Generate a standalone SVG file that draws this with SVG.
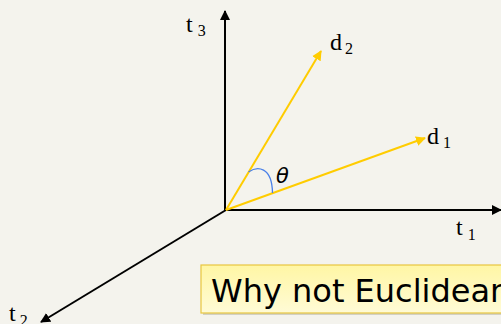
<svg xmlns="http://www.w3.org/2000/svg" width="501" height="324" viewBox="0 0 501 324">
<style>
.ax{stroke:#000;stroke-width:2;fill:none}
.vec{stroke:#FFCC00;stroke-width:2;fill:none}
.lbl{font-family:"Liberation Serif",serif;font-size:24px;fill:#000}
.sub{font-size:16px}
</style>
<defs>
<marker id="ah" viewBox="0 0 10 10" refX="9" refY="5" markerWidth="5" markerHeight="5" orient="auto" markerUnits="strokeWidth">
<path d="M0,0 L10,5 L0,10 z" fill="#000"/>
</marker>
<marker id="ay" viewBox="0 0 10 10" refX="9" refY="5" markerWidth="5" markerHeight="5" orient="auto" markerUnits="strokeWidth">
<path d="M0,0 L10,5 L0,10 z" fill="#FFCC00"/>
</marker>
<linearGradient id="bg" x1="0" y1="0" x2="0" y2="1">
<stop offset="0" stop-color="#fff6a4"/>
<stop offset="1" stop-color="#fffbd6"/>
</linearGradient>
</defs>
<rect width="501" height="324" fill="#f4f3ed"/>
<g id="connectors">
<line class="ax" x1="225" y1="211" x2="225" y2="11" marker-end="url(#ah)"/>
<line class="ax" x1="224" y1="210" x2="501" y2="210" marker-end="url(#ah)"/>
<line class="ax" x1="226" y1="210" x2="41" y2="322" stroke-width="1.6" marker-end="url(#ah)"/>
<line class="vec" x1="226" y1="210" x2="321" y2="51" marker-end="url(#ay)"/>
<line class="vec" x1="226" y1="210" x2="425" y2="138" marker-end="url(#ay)"/>
<path d="M248.5,172 C257,166 272,166 272.5,193" fill="none" stroke="#4a80e8" stroke-width="1.3"/>
</g>
<g id="t3"><text class="lbl" x="186" y="32">t<tspan class="sub" dx="5" dy="4">3</tspan></text></g>
<g id="d2"><text class="lbl" x="330" y="50">d<tspan class="sub" dx="3" dy="4">2</tspan></text></g>
<g id="d1"><text class="lbl" x="427" y="144">d<tspan class="sub" dx="4" dy="4">1</tspan></text></g>
<g id="t1"><text class="lbl" x="456" y="235">t<tspan class="sub" dx="5" dy="5">1</tspan></text></g>
<g id="t2"><text class="lbl" x="9" y="321">t<tspan class="sub" dx="4" dy="5">2</tspan></text></g>
<g id="theta"><text x="276" y="183" font-family="DejaVu Sans,sans-serif" font-style="italic" font-size="21" fill="#000">θ</text></g>
<g id="note">
<rect x="203" y="267" width="310" height="48" fill="#b0ad9c" opacity="0.5"/>
<rect x="201" y="265" width="310" height="48" fill="url(#bg)" stroke="#e8c640" stroke-width="1.2"/>
<text x="211" y="302" font-family="DejaVu Sans,sans-serif" font-size="32" fill="#000">Why not Euclidean</text>
</g>
</svg>
